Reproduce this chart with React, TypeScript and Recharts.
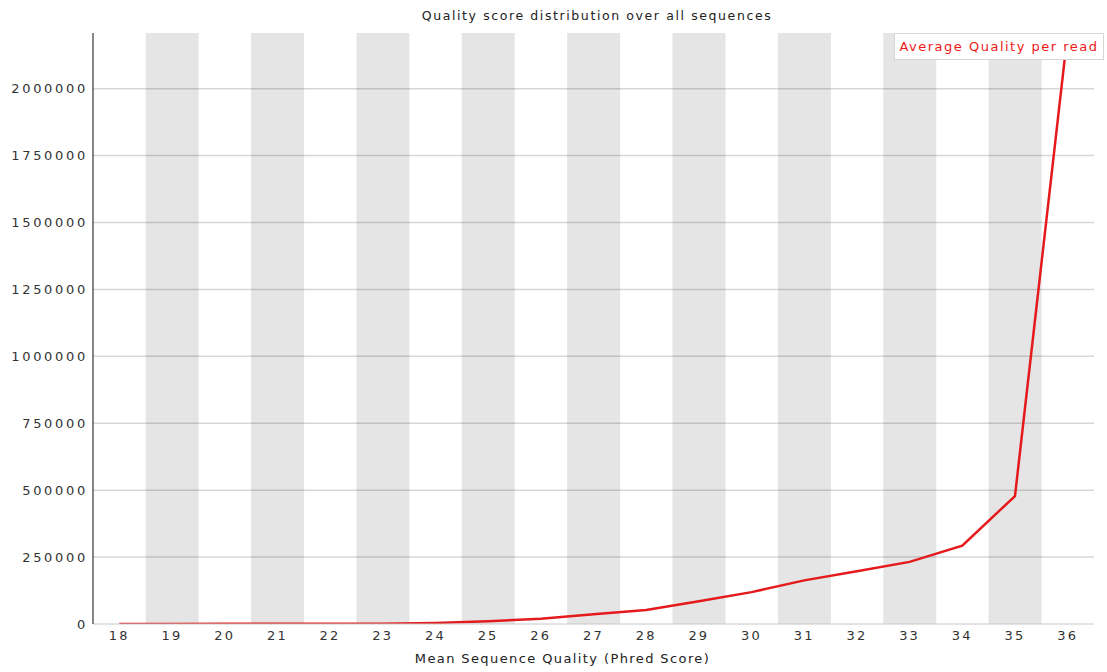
import React from 'react'
import { ComposedChart, Bar, Line, XAxis, YAxis, ReferenceLine } from 'recharts'

// Mean quality score per read (Phred) and the number of reads at each score
const qualityScores = ['18', '19', '20', '21', '22', '23', '24', '25', '26', '27', '28', '29', '30', '31', '32', '33', '34', '35', '36']
const readCounts = [300, 400, 500, 600, 600, 1000, 4000, 10000, 20000, 36000, 52000, 85000, 119000, 163000, 197000, 232000, 293000, 478000, 2208000]
const yTicks = [0, 250000, 500000, 750000, 1000000, 1250000, 1500000, 1750000, 2000000]
const yMax = 2208000

// alternate categories get a grey background band
const data = qualityScores.map((q, i) => ({
  quality: q,
  count: readCounts[i],
  band: i % 2 === 1 ? 1 : 0,
}))

const FONT = '"DejaVu Sans", Verdana, sans-serif'
const RED = '#e41a1c'
const GRID = 'rgba(0,0,0,0.16)'

export default function App() {
  return (
    <div style={{ position: 'absolute', left: 0, top: 0, width: 1107, height: 672, background: '#fff' }}>
      <div
        style={{
          position: 'absolute',
          left: 0,
          width: 1194,
          top: 8,
          textAlign: 'center',
          fontFamily: FONT,
          fontSize: 12.5,
          letterSpacing: 1.6,
          color: '#222',
        }}
      >
        Quality score distribution over all sequences
      </div>
      <ComposedChart
        width={1107}
        height={672}
        data={data}
        margin={{ top: 33, right: 13, left: 0, bottom: 0 }}
        barCategoryGap={0}
      >
        <XAxis
          dataKey="quality"
          scale="band"
          height={48}
          axisLine={{ stroke: '#c8c8c8' }}
          tickLine={false}
          tickSize={0}
          tickMargin={7}
          interval={0}
          tick={{ fontFamily: FONT, fontSize: 13, fill: '#333', letterSpacing: 2.2 }}
        />
        <YAxis
          yAxisId="count"
          width={93}
          domain={[0, yMax]}
          ticks={yTicks}
          allowDataOverflow
          axisLine={{ stroke: '#111' }}
          tickLine={false}
          tickSize={0}
          tickMargin={5}
          tick={{ fontFamily: FONT, fontSize: 13, fill: '#333', letterSpacing: 2.7 }}
        />
        <YAxis yAxisId="band" orientation="right" hide width={0} domain={[0, 1]} />
        <Bar yAxisId="band" dataKey="band" fill="#e5e5e5" isAnimationActive={false} />
        {yTicks.slice(1).map((t) => (
          <ReferenceLine key={t} yAxisId="count" y={t} stroke={GRID} strokeWidth={1.5} />
        ))}
        <Line
          yAxisId="count"
          type="linear"
          dataKey="count"
          stroke={RED}
          strokeWidth={2.5}
          dot={false}
          isAnimationActive={false}
        />
      </ComposedChart>
      <div
        style={{
          position: 'absolute',
          top: 33,
          left: 894,
          width: 210,
          height: 27,
          boxSizing: 'border-box',
          background: '#fff',
          border: '1px solid #d6d6d6',
          color: '#f01818',
          fontFamily: FONT,
          fontSize: 13,
          letterSpacing: 1.5,
          lineHeight: '26px',
          textAlign: 'center',
          whiteSpace: 'nowrap',
        }}
      >
        Average Quality per read
      </div>
      <div
        style={{
          position: 'absolute',
          left: 0,
          width: 1125,
          top: 651,
          textAlign: 'center',
          fontFamily: FONT,
          fontSize: 13,
          letterSpacing: 1.4,
          color: '#222',
        }}
      >
        Mean Sequence Quality (Phred Score)
      </div>
    </div>
  )
}
